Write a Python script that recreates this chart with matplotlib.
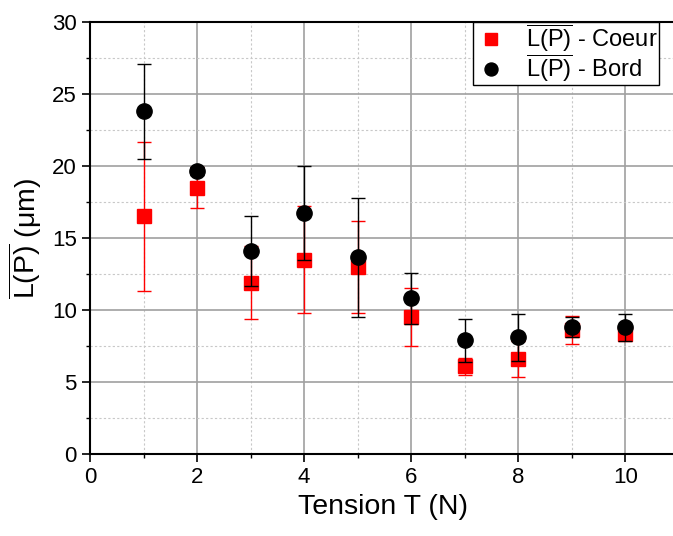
import matplotlib
matplotlib.use("Agg")
import matplotlib.pyplot as plt
from matplotlib.ticker import MultipleLocator

plt.rcParams["font.family"] = ["Liberation Sans", "DejaVu Sans"]
plt.rcParams["mathtext.fontset"] = "custom"
plt.rcParams["mathtext.rm"] = "Liberation Sans"
plt.rcParams["mathtext.it"] = "Liberation Sans:italic"

# tension (N)
tension = [1, 2, 3, 4, 5, 6, 7, 8, 9, 10]

# mean L(P) in µm, core
coeur = [16.5, 18.5, 11.9, 13.5, 13.0, 9.5, 6.1, 6.6, 8.6, 8.3]
coeur_err = [5.2, 1.4, 2.55, 3.7, 3.2, 2.0, 0.6, 1.25, 0.95, 0.4]

# mean L(P) in µm, edge
bord = [23.8, 19.65, 14.1, 16.75, 13.65, 10.8, 7.9, 8.1, 8.8, 8.8]
bord_err = [3.3, 0.3, 2.4, 3.25, 4.15, 1.8, 1.5, 1.65, 0.7, 0.95]

fig = plt.figure(figsize=(6.73, 5.36), dpi=100)
ax = fig.add_axes([90 / 673, 1 - 454 / 536, 585 / 673, 432 / 536])

c1 = ax.errorbar(tension, coeur, yerr=coeur_err, fmt="s", color="red", ms=10,
                 elinewidth=1, capsize=5, capthick=1, zorder=3)
c2 = ax.errorbar(tension, bord, yerr=bord_err, fmt="o", color="black", ms=11,
                 elinewidth=1, capsize=5, capthick=1, zorder=4)

ax.set_xlim(0, 10.93)
ax.set_ylim(0, 30)
ax.xaxis.set_major_locator(MultipleLocator(2))
ax.xaxis.set_minor_locator(MultipleLocator(1))
ax.yaxis.set_major_locator(MultipleLocator(5))
ax.yaxis.set_minor_locator(MultipleLocator(2.5))

ax.grid(which="major", color="#a0a0a0", linewidth=1.2)
ax.grid(which="minor", color="#c8c8c8", linestyle=(0, (2, 2)), linewidth=0.8)
ax.set_axisbelow(True)

for s in ax.spines.values():
    s.set_linewidth(1.5)
ax.tick_params(which="major", direction="out", length=6, width=1.2, labelsize=16, top=False, right=False)
ax.tick_params(which="minor", direction="out", length=3, width=1.0, top=False, right=False)

ax.set_xlabel("Tension T (N)", fontsize=20.5)
ax.set_ylabel(r"$\overline{\mathrm{L(P)}}$ ($\mathrm{\mu}$m)", fontsize=20.5, labelpad=6)

# markers only in the legend, no error bars
leg = fig.legend([c1[0], c2[0]],
                 [r"$\overline{\mathrm{L(P)}}$ - Coeur", r"$\overline{\mathrm{L(P)}}$ - Bord"],
                 loc="upper left", bbox_to_anchor=(473 / 673, 1 - 22 / 536),
                 fontsize=17, frameon=True, fancybox=False, markerscale=0.85,
                 edgecolor="black", framealpha=1, borderaxespad=0,
                 handletextpad=0.8, borderpad=0.05, labelspacing=-0.05, handlelength=1.4)
leg.get_frame().set_linewidth(1.0)

fig.savefig("out.png", dpi=100)
